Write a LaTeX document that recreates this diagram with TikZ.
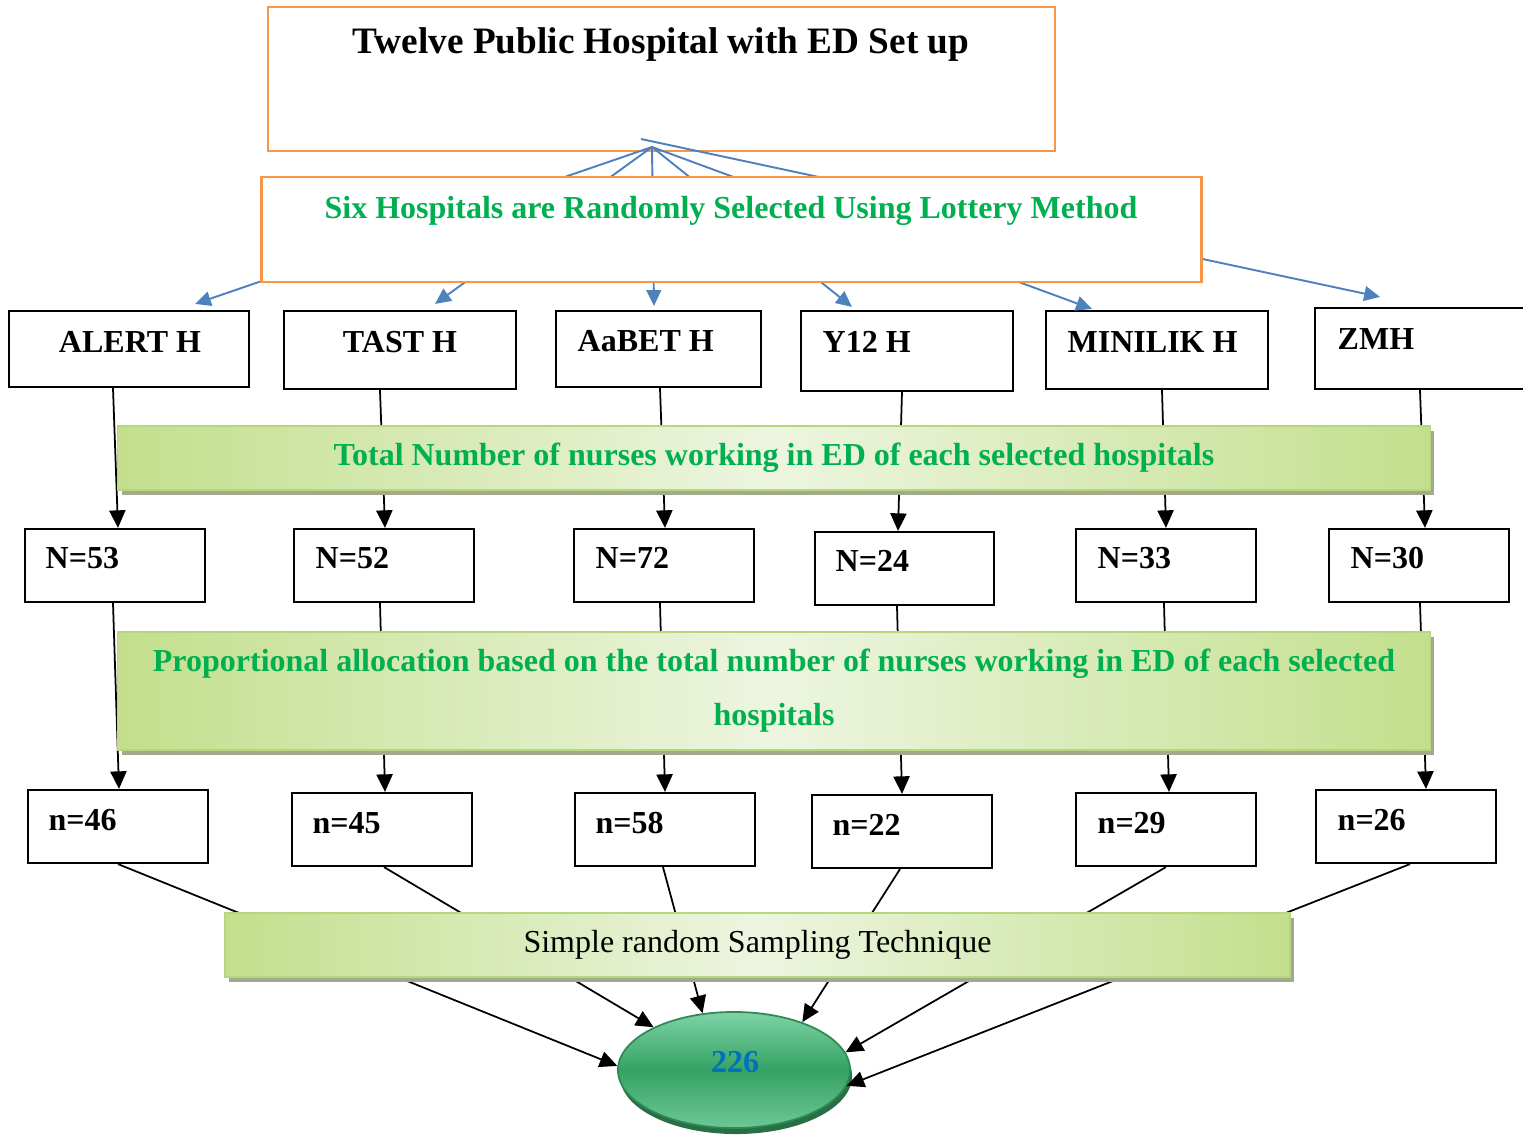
\documentclass[tikz,border=0pt]{standalone}
\usepackage{fontspec}
\setmainfont{Liberation Serif}
\usetikzlibrary{shapes.geometric,arrows.meta,shadows}
\definecolor{orng}{HTML}{F79646}
\definecolor{bluel}{HTML}{4F81BD}
\definecolor{grntxt}{HTML}{00B050}
\definecolor{bandg}{HTML}{C3DF8D}
\definecolor{bandl}{HTML}{EDF5E0}
\definecolor{bande}{HTML}{B5D87F}
\definecolor{bandsh}{HTML}{A3A98A}
\definecolor{elltop}{HTML}{7DD3A6}
\definecolor{ellmid}{HTML}{35A263}
\definecolor{ellbot}{HTML}{6DC896}
\definecolor{ellrim}{HTML}{2F8A55}
\definecolor{ellsh}{HTML}{2A6E45}
\definecolor{numblue}{HTML}{0070C0}
\tikzset{
 obox/.style={draw=orng, line width=0.7pt, fill=white, rectangle, inner sep=0pt},
 hbox/.style={draw=black, line width=0.6pt, fill=white, rectangle, inner sep=0pt},
 lbl/.style={inner sep=0pt, font=\fontsize{9.1}{11}\selectfont\bfseries},
 barrow/.style={draw=bluel, line width=0.55pt, -{Triangle[length=4.5pt,width=4.2pt]}},
 karrow/.style={draw=black, line width=0.5pt, -{Triangle[length=5pt,width=4.6pt]}},
 band/.style={rectangle, inner sep=0pt, draw=bande, line width=0.5pt,
   left color=bandg, right color=bandg, middle color=bandl,
   drop shadow={fill=bandsh, opacity=1, shadow xshift=0.04cm, shadow yshift=-0.05cm}},
 bandtxt/.style={text=grntxt, font=\fontsize{9.1}{15.4}\selectfont\bfseries, align=center},
}
\begin{document}
\begin{tikzpicture}[x=0.01cm, y=-0.01cm]
\useasboundingbox (0,0) rectangle (1523,1139);
\clip (0,0) rectangle (1523,1139);

% top box
\node[obox, minimum width=7.87cm, minimum height=1.44cm] (top) at (661.5,79) {};
\node[lbl, anchor=base, font=\fontsize{10.6}{12}\selectfont\bfseries] (ttop) at (661,53) {Twelve Public Hospital with ED Set up};

% hospital boxes
\node[hbox, minimum width=2.40cm, minimum height=0.76cm] (alert) at (129,349) {};
\node[hbox, minimum width=2.32cm, minimum height=0.78cm] (tast) at (400,350) {};
\node[hbox, minimum width=2.05cm, minimum height=0.76cm] (aabet) at (658.5,349) {};
\node[hbox, minimum width=2.12cm, minimum height=0.80cm] (y12) at (907,351) {};
\node[hbox, minimum width=2.22cm, minimum height=0.78cm] (minilik) at (1157,350) {};
\node[hbox, minimum width=2.20cm, minimum height=0.81cm] (zmh) at (1425,348.5) {};

% blue connectors (partly hidden by the second box)
\coordinate (apex) at (652,147);
\coordinate (apexz) at (641,139);
\draw[barrow] (apex) -- ([xshift=0.66cm,yshift=0.06cm]alert.north);
\draw[barrow] (apex) -- ([xshift=0.35cm,yshift=0.06cm]tast.north);
\draw[barrow] (apex) -- ([xshift=-0.045cm,yshift=0.04cm]aabet.north);
\draw[barrow] (apex) -- ([xshift=-0.55cm,yshift=0.03cm]y12.north);
\draw[barrow] (apex) -- ([xshift=-0.65cm,yshift=0.01cm]minilik.north);
\draw[barrow] (apexz) -- ([xshift=-0.45cm,yshift=0.10cm]zmh.north);

% second box
\node[obox, minimum width=9.39cm, minimum height=1.05cm] (six) at (731.5,229.5) {};
\node[lbl, anchor=base, text=grntxt] (tsix) at (731,218) {Six Hospitals are Randomly Selected Using Lottery Method};

% hospital labels
\node[lbl, anchor=base] (talert) at (130,352) {ALERT H};
\node[lbl, anchor=base] (ttast) at (400,352) {TAST H};
\node[lbl, anchor=base west] (taabet) at (577,351) {AaBET H};
\node[lbl, anchor=base west] (ty12) at (822,352) {Y12 H};
\node[lbl, anchor=base west] (tminilik) at (1067,352) {MINILIK H};
\node[lbl, anchor=base west] (tzmh) at (1337,349) {ZMH};

% N boxes
\node[hbox, minimum width=1.80cm, minimum height=0.73cm] (N53) at (115,565.5) {};
\node[hbox, minimum width=1.80cm, minimum height=0.73cm] (N52) at (384,565.5) {};
\node[hbox, minimum width=1.80cm, minimum height=0.73cm] (N72) at (664,565.5) {};
\node[hbox, minimum width=1.79cm, minimum height=0.73cm] (N24) at (904.5,568.5) {};
\node[hbox, minimum width=1.80cm, minimum height=0.73cm] (N33) at (1166,565.5) {};
\node[hbox, minimum width=1.80cm, minimum height=0.73cm] (N30) at (1419,565.5) {};
\node[lbl, anchor=base west] (tN53) at (45,568) {N=53};
\node[lbl, anchor=base west] (tN52) at (315,568) {N=52};
\node[lbl, anchor=base west] (tN72) at (595,568) {N=72};
\node[lbl, anchor=base west] (tN24) at (835,571) {N=24};
\node[lbl, anchor=base west] (tN33) at (1097,568) {N=33};
\node[lbl, anchor=base west] (tN30) at (1350,568) {N=30};

% n boxes
\node[hbox, minimum width=1.80cm, minimum height=0.73cm] (n46) at (118,826.5) {};
\node[hbox, minimum width=1.80cm, minimum height=0.73cm] (n45) at (382,829.5) {};
\node[hbox, minimum width=1.80cm, minimum height=0.73cm] (n58) at (665,829.5) {};
\node[hbox, minimum width=1.80cm, minimum height=0.73cm] (n22) at (902,831.5) {};
\node[hbox, minimum width=1.80cm, minimum height=0.73cm] (n29) at (1166,829.5) {};
\node[hbox, minimum width=1.80cm, minimum height=0.73cm] (n26) at (1406,826.5) {};
\node[lbl, anchor=base west] (tn46) at (48,830) {n=46};
\node[lbl, anchor=base west] (tn45) at (312,833) {n=45};
\node[lbl, anchor=base west] (tn58) at (595,833) {n=58};
\node[lbl, anchor=base west] (tn22) at (832,835) {n=22};
\node[lbl, anchor=base west] (tn29) at (1097,833) {n=29};
\node[lbl, anchor=base west] (tn26) at (1337,830) {n=26};

% ellipse
\node[ellipse, minimum width=2.32cm, minimum height=1.16cm, inner sep=0pt,
  draw=ellrim, line width=0.5pt, top color=elltop, bottom color=ellbot, middle color=ellmid,
  drop shadow={fill=ellsh, opacity=1, shadow xshift=0.02cm, shadow yshift=-0.06cm}] (E) at (734,1070) {};
\node[lbl, anchor=base, text=numblue] (t226) at (735,1072) {226};

% black connectors
\draw[karrow] ([xshift=-0.16cm]alert.south) -- ([xshift=0.03cm]N53.north);
\draw[karrow] ([xshift=-0.20cm]tast.south) -- ([xshift=0.01cm]N52.north);
\draw[karrow] ([xshift=0.015cm]aabet.south) -- ([xshift=0.01cm]N72.north);
\draw[karrow] ([xshift=-0.05cm]y12.south) -- ([xshift=-0.065cm]N24.north);
\draw[karrow] ([xshift=0.05cm]minilik.south) -- (N33.north);
\draw[karrow] ([xshift=-0.05cm]zmh.south) -- ([xshift=0.06cm]N30.north);

\draw[karrow] ([xshift=-0.02cm]N53.south) -- ([xshift=0.01cm]n46.north);
\draw[karrow] ([xshift=-0.04cm]N52.south) -- ([xshift=0.03cm]n45.north);
\draw[karrow] ([xshift=-0.04cm]N72.south) -- (n58.north);
\draw[karrow] ([xshift=-0.075cm]N24.south) -- (n22.north);
\draw[karrow] ([xshift=-0.02cm]N33.south) -- ([xshift=0.03cm]n29.north);
\draw[karrow] ([xshift=0.01cm]N30.south) -- ([xshift=0.20cm]n26.north);

\draw[karrow] (n46.south) -- (E.178);
\draw[karrow] ([xshift=0.02cm]n45.south) -- (E.152);
\draw[karrow] ([xshift=-0.02cm]n58.south) -- (E.119);
\draw[karrow] ([xshift=-0.02cm]n22.south) -- (E.35);
\draw[karrow] (n29.south) -- (E.9);
\draw[karrow] ([xshift=0.04cm]n26.south) -- (E.-8);

% bands
\node[band, bandtxt, minimum width=13.12cm, minimum height=0.64cm] (band1) at (774,458)
  {\raisebox{-0.03cm}{Total Number of nurses working in ED of each selected hospitals}};
\node[band, bandtxt, minimum width=13.12cm, minimum height=1.18cm] (band2) at (774,691)
  {\raisebox{-0.025cm}{Proportional allocation based on the total number of nurses working in ED of each selected}\\\raisebox{-0.025cm}{hospitals}};
\node[band, minimum width=10.65cm, minimum height=0.64cm, font=\fontsize{9.1}{11}\selectfont] (band3) at (757.5,945)
  {Simple random Sampling Technique};
\end{tikzpicture}
\end{document}
